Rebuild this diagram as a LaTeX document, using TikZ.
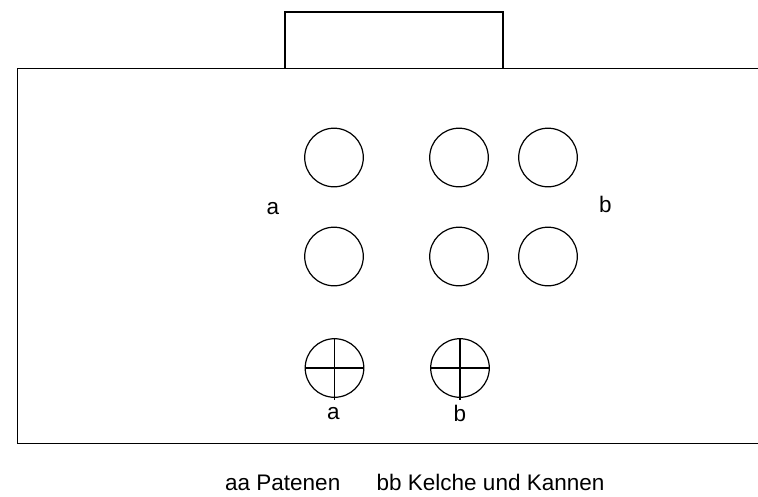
\documentclass[tikz,border=0pt]{standalone}
\usepackage{fontspec}
\setmainfont{Liberation Sans}
\usetikzlibrary{positioning}

\tikzset{
    hole/.style={draw, circle, line width=1.2pt, minimum size=58.6pt, inner sep=0pt},
    lbl/.style={inner sep=0pt, font=\fontsize{22.5}{26}\selectfont},
}

\begin{document}
\begin{tikzpicture}[x=1pt, y=-1pt]
    % 1. Bildausschnitt
    \useasboundingbox (0, 0) rectangle (758, 496);

    % 2. Altar (rechts offen) und Aufsatz
    \draw[line width=1.6pt] (758, 68.3) -- (17.5, 68.3) -- (17.5, 443.5) -- (758, 443.5);
    \draw[line width=1.6pt] (285, 68.3) -- (285, 11.7) -- (502.7, 11.7) -- (502.7, 68.3);

    % 3. Obere Reihe
    \node[hole] (h11) at (334, 157.5) {};
    \node[hole] (h12) at (459, 157.5) {};
    \node[hole] (h13) at (548, 157.5) {};

    % 4. Mittlere Reihe
    \node[hole] (h21) at (334, 256.5) {};
    \node[hole] (h22) at (459, 256.5) {};
    \node[hole] (h23) at (548, 256.5) {};

    % 5. Kreise mit Kreuz
    \node[hole] (pa) at (334.5, 368) {};
    \node[hole] (pb) at (460, 368) {};
    \draw[line width=1.2pt] (pa.west) -- (pa.east);
    \draw[line width=1.2pt] (pa.north) -- ([yshift=-2pt]pa.south);
    \draw[line width=1.2pt] (pb.west) -- (pb.east);
    \draw[line width=1.2pt] (pb.north) -- ([yshift=-2pt]pb.south);

    % 6. Beschriftung
    \node[lbl] (la) at (273, 208.5) {a};
    \node[lbl] (lb) at (605.5, 204) {b};
    \node[lbl] (ua) at (333.5, 414) {a};
    \node[lbl] (ub) at (460, 413) {b};

    % 7. Legende
    \node[lbl, anchor=base west] (leg1) at (225, 490) {aa Patenen};
    \node[lbl, anchor=base west] (leg2) at (376.5, 490) {bb Kelche und Kannen};
\end{tikzpicture}
\end{document}
